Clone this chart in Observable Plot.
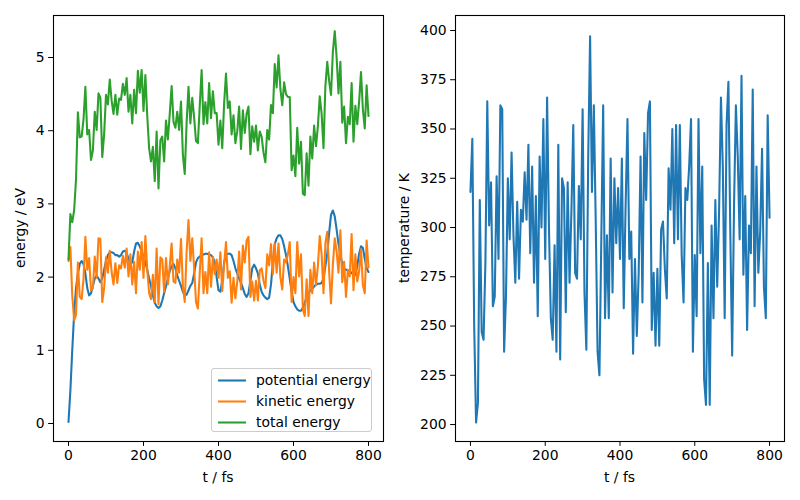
<!DOCTYPE html>
<html><head><meta charset="utf-8">
<script src="https://cdn.jsdelivr.net/npm/d3@7"></script>
<script src="https://cdn.jsdelivr.net/npm/@observablehq/plot@0.6"></script>
<style>
body{margin:0;background:#fff;}
#wrap{position:relative;width:800px;height:500px;font-family:"DejaVu Sans",sans-serif;color:#000;overflow:hidden;}
.panel{position:absolute;top:0;}
.lbl{position:absolute;font-size:13.9px;white-space:nowrap;line-height:1;}
.rot{transform:translate(-50%,-50%) rotate(-90deg);}
.hc{transform:translate(-50%,-50%);}
#legend{position:absolute;left:211px;top:368px;width:161px;height:64px;border:1px solid #cccccc;border-radius:3px;background:rgba(255,255,255,0.8);box-sizing:border-box;}
.item{position:absolute;left:0;height:20px;font-size:13.9px;line-height:1;}
.item svg{position:absolute;left:5px;top:0;}
.item span{position:absolute;left:44px;top:3px;white-space:nowrap;}
</style></head>
<body><div id="wrap"></div>
<script>
const time = [0,5,10,15,20,25,30,35,40,45,50,55,60,65,70,75,80,85,90,95,
100,105,110,115,120,125,130,135,140,145,150,155,160,165,170,175,180,185,190,195,
200,205,210,215,220,225,230,235,240,245,250,255,260,265,270,275,280,285,290,295,
300,305,310,315,320,325,330,335,340,345,350,355,360,365,370,375,380,385,390,395,
400,405,410,415,420,425,430,435,440,445,450,455,460,465,470,475,480,485,490,495,
500,505,510,515,520,525,530,535,540,545,550,555,560,565,570,575,580,585,590,595,
600,605,610,615,620,625,630,635,640,645,650,655,660,665,670,675,680,685,690,695,
700,705,710,715,720,725,730,735,740,745,750,755,760,765,770,775,780,785,790,795,800];

const temperature = [318,345,250,201,211,314,247,243,282,364,
301,323,260,265,326,284,362,360,237,265,
325,294,338,296,272,313,274,309,303,328,
304,342,287,331,272,316,255,336,300,355,
284,366,300,254,243,291,237,342,233,325,
320,257,323,272,308,352,277,274,321,294,
360,267,238,336,397,318,362,304,237,225,
294,362,254,296,254,335,267,325,292,320,
284,335,259,311,355,284,298,236,284,245,
277,336,262,348,314,358,364,248,277,240,
279,240,299,303,279,264,330,309,350,292,
352,294,352,286,262,320,314,331,355,237,
286,255,355,287,331,223,210,282,210,301,
254,314,270,308,366,331,254,352,374,298,
235,311,362,336,294,377,276,316,248,301,
287,370,260,331,277,298,340,270,254,357,
305];

const kinetic = [2.22,2.41,1.75,1.41,1.48,2.20,1.73,1.70,1.97,2.55,
2.10,2.26,1.82,1.85,2.28,1.99,2.53,2.52,1.66,1.85,
2.27,2.06,2.36,2.07,1.90,2.19,1.92,2.16,2.12,2.29,
2.13,2.39,2.01,2.31,1.90,2.21,1.78,2.35,2.10,2.48,
1.99,2.56,2.10,1.78,1.70,2.03,1.66,2.39,1.63,2.27,
2.24,1.80,2.26,1.90,2.15,2.46,1.94,1.92,2.24,2.06,
2.52,1.87,1.66,2.35,2.78,2.22,2.53,2.13,1.66,1.57,
2.06,2.53,1.78,2.07,1.78,2.34,1.87,2.27,2.04,2.24,
1.99,2.34,1.81,2.17,2.48,1.99,2.08,1.65,1.99,1.71,
1.94,2.35,1.83,2.43,2.20,2.50,2.55,1.73,1.94,1.68,
1.95,1.68,2.09,2.12,1.95,1.85,2.31,2.16,2.45,2.04,
2.46,2.06,2.46,2.00,1.83,2.24,2.20,2.31,2.48,1.66,
2.00,1.78,2.48,2.01,2.31,1.56,1.47,1.97,1.47,2.10,
1.78,2.20,1.89,2.15,2.56,2.31,1.78,2.46,2.62,2.08,
1.64,2.17,2.53,2.35,2.06,2.64,1.93,2.21,1.73,2.10,
2.01,2.59,1.82,2.31,1.94,2.08,2.38,1.89,1.78,2.50,
2.13];

const potential = [0.02,0.45,1.00,1.50,1.85,2.05,2.18,2.22,2.18,2.05,
1.85,1.75,1.78,1.88,1.98,2.02,1.98,1.93,1.98,2.10,
2.22,2.30,2.34,2.34,2.33,2.30,2.30,2.28,2.30,2.35,
2.36,2.33,2.25,2.18,2.20,2.35,2.46,2.47,2.42,2.35,
2.28,2.20,2.10,1.98,1.88,1.75,1.65,1.60,1.58,1.60,
1.68,1.78,1.88,1.98,2.08,2.15,2.18,2.12,2.02,1.95,
1.88,1.80,1.75,1.76,1.82,1.88,1.92,2.05,2.20,2.26,
2.28,2.30,2.31,2.32,2.32,2.31,2.30,2.27,2.20,2.00,
1.82,1.80,1.95,2.20,2.30,2.32,2.32,2.30,2.22,2.12,
2.05,1.98,1.92,1.85,1.77,1.73,1.78,1.95,2.12,2.17,
2.12,2.05,1.90,1.80,1.75,1.72,1.70,1.72,1.90,2.20,
2.45,2.53,2.57,2.57,2.52,2.42,2.30,2.15,1.98,1.80,
1.66,1.60,1.56,1.54,1.54,1.58,1.65,1.72,1.78,1.82,
1.84,1.87,1.90,1.91,1.91,1.92,1.98,2.15,2.32,2.60,
2.85,2.91,2.83,2.65,2.45,2.30,2.18,2.12,2.10,2.09,
2.08,2.06,2.03,2.03,2.15,2.32,2.42,2.40,2.25,2.12,
2.07];

const total = [2.24,2.86,2.75,2.91,3.33,4.25,3.91,3.92,4.15,4.60,
3.95,4.01,3.60,3.73,4.26,4.01,4.51,4.45,3.64,3.95,
4.49,4.36,4.70,4.41,4.23,4.49,4.22,4.44,4.42,4.64,
4.49,4.72,4.26,4.49,4.10,4.56,4.24,4.82,4.52,4.83,
4.27,4.76,4.20,3.76,3.58,3.78,3.31,3.99,3.21,3.87,
3.92,3.58,4.14,3.88,4.23,4.61,4.12,4.04,4.26,4.01,
4.40,3.67,3.41,4.11,4.60,4.10,4.45,4.18,3.86,3.83,
4.34,4.83,4.09,4.39,4.10,4.65,4.17,4.54,4.24,4.24,
3.81,4.14,3.76,4.37,4.78,4.31,4.40,3.95,4.21,3.83,
3.99,4.33,3.75,4.28,3.97,4.23,4.33,3.68,4.06,3.85,
4.07,3.73,3.99,3.92,3.70,3.57,4.01,3.88,4.35,4.24,
4.91,4.59,5.03,4.57,4.35,4.66,4.50,4.46,4.46,3.46,
3.66,3.38,4.04,3.55,3.85,3.14,3.12,3.69,3.25,3.92,
3.62,4.07,3.79,4.06,4.47,4.23,3.76,4.61,4.94,4.68,
4.49,5.08,5.36,5.00,4.51,4.94,4.11,4.33,3.83,4.19,
4.09,4.65,3.85,4.34,4.09,4.40,4.80,4.29,4.03,4.62,
4.20];

const seriesNames = ["potential energy", "kinetic energy", "total energy"];
const seriesColors = ["#1f77b4", "#ff7f0e", "#2ca02c"];
const timeTicks = [0, 200, 400, 600, 800];
const energyTicks = [0, 1, 2, 3, 4, 5];
const tempTicks = [200, 225, 250, 275, 300, 325, 350, 375, 400];
const xLabel = "t / fs";
const energyLabel = "energy / eV";
const tempLabel = "temperature / K";

const energyRows = [];
[potential, kinetic, total].forEach((arr, k) => {
  arr.forEach((v, i) => energyRows.push({t: time[i], v, s: seriesNames[k]}));
});
const tempRows = temperature.map((v, i) => ({t: time[i], v}));

const style = {fontFamily: "DejaVu Sans, sans-serif", fontSize: "13.9px", color: "black", background: "transparent", overflow: "visible"};

const left = Plot.plot({
  width: 400, height: 500,
  marginLeft: 53, marginRight: 17, marginTop: 15, marginBottom: 59,
  style,
  x: {domain: [-40, 840], ticks: timeTicks, tickSize: 4.9, tickPadding: 4, label: null, tickFormat: d => String(d)},
  y: {domain: [-0.246, 5.574], ticks: energyTicks, tickSize: 4.9, tickPadding: 4, label: null, tickFormat: d => String(d)},
  color: {domain: seriesNames, range: seriesColors},
  marks: [
    Plot.lineY(energyRows, {x: "t", y: "v", z: "s", stroke: "s", strokeWidth: 2.08}),
    Plot.frame({stroke: "black", strokeWidth: 1.1})
  ]
});

const right = Plot.plot({
  width: 400, height: 500,
  marginLeft: 55, marginRight: 16, marginTop: 15, marginBottom: 59,
  style,
  x: {domain: [-40, 840], ticks: timeTicks, tickSize: 4.9, tickPadding: 4, label: null, tickFormat: d => String(d)},
  y: {domain: [191.4, 407.6], ticks: tempTicks, tickSize: 4.9, tickPadding: 4, label: null, tickFormat: d => String(d)},
  marks: [
    Plot.lineY(tempRows, {x: "t", y: "v", stroke: seriesColors[0], strokeWidth: 2.08}),
    Plot.frame({stroke: "black", strokeWidth: 1.1})
  ]
});

const wrap = document.getElementById("wrap");
left.classList.add("panel"); left.style.left = "0px";
right.classList.add("panel"); right.style.left = "400px";
wrap.appendChild(left);
wrap.appendChild(right);

function label(text, x, y, cls) {
  const d = document.createElement("div");
  d.className = "lbl " + cls;
  d.style.left = x + "px"; d.style.top = y + "px";
  d.textContent = text;
  wrap.appendChild(d);
}
label(xLabel, 218, 478, "hc");
label(xLabel, 619.5, 478, "hc");
label(energyLabel, 21, 228, "rot");
label(tempLabel, 405, 228, "rot");

const legend = document.createElement("div");
legend.id = "legend";
seriesNames.forEach((name, i) => {
  const it = document.createElement("div");
  it.className = "item";
  it.style.top = (2 + i * 20.8) + "px";
  it.style.width = "100%";
  it.innerHTML = `<svg width="30" height="20"><line x1="1" x2="29" y1="9.5" y2="9.5" stroke="${seriesColors[i]}" stroke-width="2.08"/></svg><span>${name}</span>`;
  legend.appendChild(it);
});
wrap.appendChild(legend);
</script>
</body></html>
